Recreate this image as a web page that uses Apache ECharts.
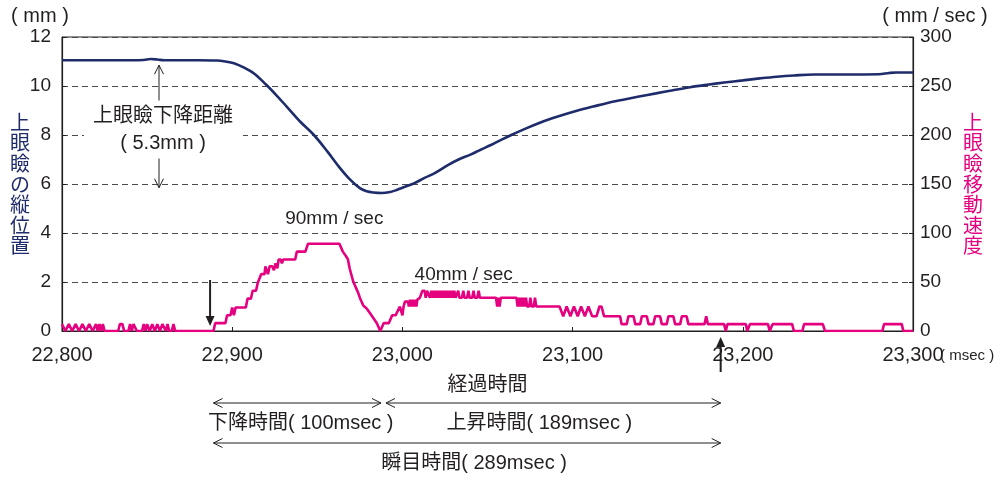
<!DOCTYPE html>
<html><head><meta charset="utf-8">
<script src="https://cdn.jsdelivr.net/npm/echarts@6/dist/echarts.min.js"></script>
<style>html,body{margin:0;padding:0;background:#fff}#c{width:1001px;height:477px}</style>
</head><body><div id="c"></div>
<script>
// ---- data ----
const xMin = 22800, xMax = 23300, xStep = 100;
const leftMax = 12, leftStep = 2;
const rightMax = 300, rightStep = 50;

// upper eyelid vertical position (mm)
const posTime = [22800,22820,22840,22848,22852,22856,22860,22880,22891,22896,22901,22907,22913,22920,22926,22932,22940,22948,22956,22963,22969,22975,22979,22983,22988,22992,22996,23000,23007,23013,23019,23027,23033,23040,23046,23052,23058,23064,23072,23080,23088,23096,23104,23112,23120,23129,23139,23149,23159,23169,23179,23189,23200,23210,23220,23230,23242,23260,23280,23286,23290,23300];
const posMm = [11.05,11.05,11.05,11.06,11.1,11.08,11.05,11.05,11.04,11.0,10.93,10.75,10.5,10.05,9.62,9.16,8.54,8.0,7.32,6.68,6.2,5.83,5.7,5.65,5.63,5.66,5.74,5.85,6.03,6.25,6.44,6.78,7.0,7.2,7.4,7.59,7.8,8.0,8.25,8.48,8.68,8.86,9.02,9.16,9.3,9.43,9.57,9.7,9.83,9.95,10.05,10.14,10.23,10.31,10.38,10.43,10.47,10.47,10.48,10.53,10.55,10.55];

// upper eyelid movement speed (mm/sec)
const velTime = [
22800,22802,22804,22806,22808,22810,22812,22814,22816,22818,22820,22821,22822,22823,22824,22825,
22833,22834,22835.5,22836.5,22839,22840,22841,22842,22843,22844,22847,22848,22849,22850,22851.5,22853,22854.5,22856,22857.5,22859,22860,22861,22862,22863,22864.5,22865.5,22866.5,
22889,22890,22896,22897,22899,22900,22901,22902,22908,22909,22911,22912,22914,22915,22916,22917,22919,22919.5,22920.5,22921,22922,22923.5,22924.5,22925.5,22926.5,22927.3,22928.5,22929.2,22930,22937,22938,22943,22944.5,
22963,22965,22967,22968,22969,22970,22971,22973,22974,22975,22977,22979,22981,22983,22985,22987,22988,22989,22992,22994,22996,22997,22998.5,22999.5,23000,23000.7,23001.5,23003.3,23003.8,23004.5,23005.2,23006,23006.8,23007.6,23008.2,23008.8,23010.3,23011.7,
23013,23013.7,23014.5,23015.5,23016.2,23017,23017.7,23018.5,23019.2,23020,23020.7,23021.5,23022.2,23023,23023.7,23024.5,23025.2,23026,23026.7,23027.5,23028.2,23029,23029.7,23030.5,23031.2,23032,23032.8,23033.5,23035,23035.8,23036.5,23038,23038.8,23039.5,23041,23041.8,23042.5,23044,23044.8,23045.5,
23055,23055.7,23056.4,23057.1,23057.8,23067,23067.7,23068.4,23069.1,23069.8,23070.5,23071.2,23071.9,23072.6,23073.3,23074.5,23075.2,23075.9,23077.2,23077.9,23078.6,
23092.3,23094.5,23096.5,23098.7,23100.8,23103,23105,23107.2,23109.3,23111.5,23114,23115.8,23117,23118.5,
23127.9,23128.8,23131.8,23132.8,23135.8,23136.8,23139.7,23140.7,23143.6,23144.6,23147.5,23148.5,23151.4,23152.4,23155.3,23156.3,23159.2,23160.2,23163.2,23164.2,23167,23168,23177.5,23178.5,23179.5,
23189,23190,23191,23201.8,23202.6,23203.4,23204.2,23214.8,23215.8,23216.6,23217.5,23229,23230,23235,23236,23247,23248.3,23282,23283,23293.4,23294.3,23300];
const velMmSec = [
7,0,7,0,7,0,7,0,7,0,7,0,7,0,7,0,
0,7,7,0,0,7,0,7,7,0,0,7,0,7,0,7,0,7,0,7,7,0,7,0,0,7,0,
0,8,8,16,16,24,16,24,24,33,33,41,41,49,49,58,58,66,66,58,66,66,62,69,64,73,73,69,73,73,81,81,89,
89,81,76,73,64,62,51,43,39,34,26,23,18,13,8,0,0,8,8,16,16,17,25,25,16,25,30,30,25,32,25,32,25,32,25,32,34,41,
41,34,41,41,34,41,34,41,34,41,34,41,34,41,34,41,34,41,34,41,34,41,34,41,34,34,41,34,34,41,34,34,41,34,34,41,34,34,41,34,
34,25,34,25,34,34,25,34,25,34,25,34,25,34,25,25,34,25,25,34,25,
25,15,25,15,25,15,25,15,25,15,15,25,25,15,
15,7,7,15,15,7,7,15,15,7,7,15,15,7,7,15,15,7,7,15,15,7,7,15,7,
7,0,7,7,0,0,7,7,0,0,7,7,0,0,7,7,0,0,7,7,0,0];

// annotation times (msec) and values
const dropStart = 22889, trough = 22988, riseEnd = 23187;
const dropArrowTime = 22857, dropTop = 10.85, dropBottom = 5.85;
const peakLabelTime = 22960, peakLabelSpeed = 115;
const plateauLabelTime = 23036, plateauLabelSpeed = 57.5;
const startMarkTime = 22887;

const NAVY = '#1f2c6b', MAGENTA = '#e4007f', INK = '#231f20';
const LAT = "'Liberation Sans', Arial, 'Noto Sans CJK JP', sans-serif";

const chart = echarts.init(document.getElementById('c'));
const zip = (a, b) => a.map((t, i) => [t, b[i]]);

chart.setOption({
  animation: false,
  backgroundColor: '#fff',
  grid: { left: 62, right: 88, top: 37, bottom: 146, show: true, borderColor: INK, borderWidth: 1, outerBoundsMode: 'none' },
  xAxis: {
    type: 'value', min: xMin, max: xMax, interval: xStep,
    name: '経過時間', nameLocation: 'middle', nameGap: 42, nameMoveOverlap: false,
    nameTextStyle: { fontSize: 20, color: INK, fontFamily: "'Noto Sans CJK JP', sans-serif" },
    axisLine: { show: true, lineStyle: { color: INK, width: 1.2 } },
    axisTick: { show: true, inside: true, length: 4, lineStyle: { color: INK } },
    splitLine: { show: false },
    axisLabel: { fontSize: 20, color: INK, fontFamily: LAT, margin: 14,
      formatter: v => v.toLocaleString('en-US') }
  },
  yAxis: [{
    type: 'value', min: 0, max: leftMax, interval: leftStep, position: 'left',
    name: '上\n眼\n瞼\nの\n縦\n位\n置', nameLocation: 'middle', nameRotate: 0, nameGap: 32, nameMoveOverlap: false,
    nameTextStyle: { fontSize: 20, lineHeight: 20.6, color: NAVY, fontFamily: "'Noto Sans CJK JP', sans-serif" },
    axisLine: { show: true, lineStyle: { color: INK, width: 1.2 } },
    axisTick: { show: true, inside: true, length: 4, lineStyle: { color: INK } },
    axisLabel: { fontSize: 19, color: INK, fontFamily: LAT, margin: 11 },
    splitLine: { show: true, lineStyle: { color: '#4a4a4a', type: [6, 4], width: 1 } }
  }, {
    type: 'value', min: 0, max: rightMax, interval: rightStep, position: 'right',
    name: '上\n眼\n瞼\n移\n動\n速\n度', nameLocation: 'middle', nameRotate: 0, nameGap: 50, nameMoveOverlap: false,
    nameTextStyle: { fontSize: 20, lineHeight: 20.6, color: MAGENTA, fontFamily: "'Noto Sans CJK JP', sans-serif" },
    axisLine: { show: true, lineStyle: { color: INK, width: 1.2 } },
    axisTick: { show: true, inside: true, length: 4, lineStyle: { color: INK } },
    axisLabel: { fontSize: 19, color: INK, fontFamily: LAT, margin: 7 },
    splitLine: { show: false }
  }],
  series: [{
    type: 'line', yAxisIndex: 0, data: zip(posTime, posMm), showSymbol: false,
    smooth: 0.35,
    lineStyle: { color: NAVY, width: 2.6 }, z: 3
  }, {
    type: 'line', yAxisIndex: 1, data: zip(velTime, velMmSec), showSymbol: false,
    lineStyle: { color: MAGENTA, width: 2.6 }, z: 4
  }]
});

function px(t, v, yi) { return chart.convertToPixel({ xAxisIndex: 0, yAxisIndex: yi || 0 }, [t, v]); }
const g = [];
const stroke = { stroke: INK, lineWidth: 1, fill: null };
function line(x1, y1, x2, y2, w, z) { g.push({ type: 'line', z: z || 20, shape: { x1, y1, x2, y2 }, style: { stroke: INK, lineWidth: w || 1 } }); }
function chev(pts, z) { g.push({ type: 'polyline', z: z || 20, shape: { points: pts }, style: Object.assign({}, stroke) }); }
function text(s, x, y, size, opts) {
  g.push(Object.assign({ type: 'text', z: 30, style: Object.assign({ text: s, x, y, align: 'center', verticalAlign: 'middle',
    font: `${size}px ${LAT}`, fill: INK }, opts || {}) }));
}
function hArrow(xa, xb, y) {
  line(xa, y, xb, y, 1);
  chev([[xa + 9, y - 4.5], [xa, y], [xa + 9, y + 4.5]]);
  chev([[xb - 9, y - 4.5], [xb, y], [xb - 9, y + 4.5]]);
}

// drop distance arrow
const [dax, day1] = px(dropArrowTime, dropTop);
const day2 = px(dropArrowTime, dropBottom)[1];
line(dax, day1, dax, day2, 1, 20);
chev([[dax - 4.5, day1 + 9], [dax, day1], [dax + 4.5, day1 + 9]]);
chev([[dax - 4.5, day2 - 9], [dax, day2], [dax + 4.5, day2 - 9]]);
const labelY = px(dropArrowTime, (dropTop + dropBottom) / 2 - 0.13)[1];
g.push({ type: 'rect', z: 25, shape: { x: dax - 75, y: labelY - 29, width: 159, height: 58 }, style: { fill: '#fff' } });
text('上眼瞼下降距離', dax + 4, labelY - 13.5, 20);
text('( 5.3mm )', dax + 4, labelY + 13.5, 20);

// speed labels
const [p1x, p1y] = px(peakLabelTime, peakLabelSpeed, 1);
text('90mm / sec', p1x, p1y, 19);
const [p2x, p2y] = px(plateauLabelTime, plateauLabelSpeed, 1);
text('40mm / sec', p2x, p2y, 19);

// start / end markers
const base = px(xMin, 0)[1];
const sx = px(startMarkTime, 0)[0];
line(sx, base - 51, sx, base - 13, 2);
g.push({ type: 'polygon', z: 20, shape: { points: [[sx - 4.5, base - 15], [sx + 4.5, base - 15], [sx, base - 5]] }, style: { fill: INK } });
const ex = px(riseEnd, 0)[0];
line(ex, base + 14, ex, base + 41, 2);
g.push({ type: 'polygon', z: 20, shape: { points: [[ex - 4.5, base + 16], [ex + 4.5, base + 16], [ex, base + 6]] }, style: { fill: INK } });

// duration arrows
const xs = px(dropStart, 0)[0], xt = px(trough, 0)[0], xe = px(riseEnd, 0)[0];
hArrow(xs, xt - 1, base + 72);
hArrow(xt + 4, xe, base + 72);
hArrow(xs, xe, base + 112);
text('下降時間( 100msec )', (xs + xt) / 2 + 3, base + 92, 20);
text('上昇時間( 189msec )', (xt + xe) / 2 - 12, base + 92, 20);
text('瞬目時間( 289msec )', (xs + xe) / 2 + 7, base + 132, 20);

// units
const gl = px(xMin, leftMax)[0], gr = px(xMax, 0)[0];
text('( mm )', gl - 22, 16, 20);
text('( mm / sec )', gr + 22, 16, 20);
text('( msec )', gr + 27, base + 25, 15, { align: 'left' });

chart.setOption({ graphic: g });
</script>
</body></html>
